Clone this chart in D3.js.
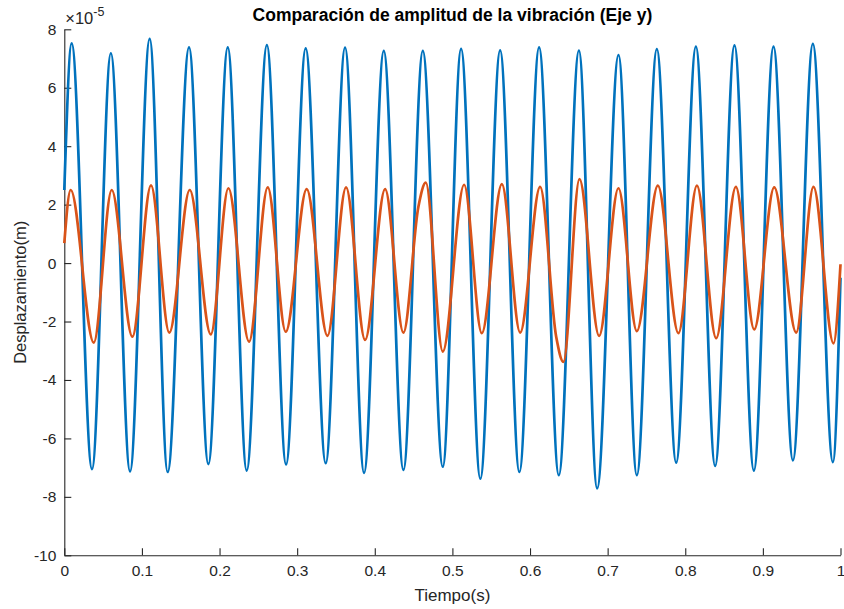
<!DOCTYPE html>
<html>
<head>
<meta charset="utf-8">
<script src="https://cdn.jsdelivr.net/npm/d3@7"></script>
<style>
  html, body { margin: 0; padding: 0; background: #fff; }
  svg { display: block; font-family: "Liberation Sans", Arial, Helvetica, sans-serif; }
</style>
</head>
<body>
<svg id="chart" width="844" height="609"></svg>
<script>
// Vibration displacement along the y axis, values in units of 1e-5 m.
// Each series is sampled at its turning points (crests, troughs, shoulders).
const tBlue = [0, 0.0095, 0.0357, 0.060, 0.0847, 0.110, 0.1332, 0.1607, 0.1856, 0.2106, 0.235,
  0.261, 0.2857, 0.311, 0.3368, 0.3617, 0.3862, 0.4116, 0.4369, 0.4619, 0.4876,
  0.5112, 0.536, 0.5615, 0.5863, 0.6117, 0.6371, 0.663, 0.6865, 0.714, 0.7376,
  0.7634, 0.7883, 0.8137, 0.8385, 0.8634, 0.8884, 0.9137, 0.9387, 0.9644, 0.9902, 1.0];
const yBlue = [2.5, 7.52, -7.05, 7.18, -7.13, 7.67, -7.15, 7.38, -6.88, 7.38, -7.10,
  7.46, -6.89, 7.35, -6.85, 7.37, -7.18, 7.26, -7.08, 7.26, -6.97,
  7.33, -7.38, 7.28, -7.15, 7.38, -7.26, 7.27, -7.71, 7.12, -7.26,
  7.32, -6.83, 7.41, -6.94, 7.45, -7.10, 7.41, -6.75, 7.50, -6.81, -0.5];

const tOrange = [0, 0.0082, 0.038, 0.0611, 0.0877, 0.1117, 0.1353, 0.1616, 0.1887, 0.2114, 0.238,
  0.2621, 0.2853, 0.3123, 0.339, 0.363, 0.3875, 0.4133, 0.4369, 0.4562, 0.4657, 0.4876,
  0.5151, 0.5379, 0.5637, 0.5873, 0.613, 0.6337, 0.643, 0.6637, 0.689, 0.7139, 0.7376,
  0.7647, 0.7912, 0.815, 0.8398, 0.8652, 0.8888, 0.9146, 0.9429, 0.9652, 0.991, 1.0];
const yOrange = [0.68, 2.50, -2.72, 2.50, -2.52, 2.66, -2.38, 2.50, -2.44, 2.56, -2.69,
  2.59, -2.35, 2.53, -2.49, 2.59, -2.63, 2.53, -2.38, 1.93, 2.75, -3.03,
  2.68, -2.40, 2.70, -2.38, 2.61, -2.52, -3.38, 2.87, -2.49, 2.56, -2.33,
  2.65, -2.40, 2.65, -2.57, 2.61, -2.27, 2.59, -2.38, 2.61, -2.75, -0.04];

const xTicks = [0, 0.1, 0.2, 0.3, 0.4, 0.5, 0.6, 0.7, 0.8, 0.9, 1];
const xTickLabels = ["0", "0.1", "0.2", "0.3", "0.4", "0.5", "0.6", "0.7", "0.8", "0.9", "1"];
const yTicks = [-10, -8, -6, -4, -2, 0, 2, 4, 6, 8];
const yTickLabels = ["-10", "-8", "-6", "-4", "-2", "0", "2", "4", "6", "8"];

const title = "Comparación de amplitud de la vibración (Eje y)";
const xLabel = "Tiempo(s)";
const yLabel = "Desplazamiento(m)";

const svg = d3.select("#chart");
const margin = { left: 64.3, right: 3.5, top: 29.3, bottom: 53.7 };
const W = 844, H = 609;
const ink = "#262626";

const x = d3.scaleLinear().domain([0, 1]).range([margin.left, W - margin.right]);
const y = d3.scaleLinear().domain([-10, 8]).range([H - margin.bottom, margin.top]);

svg.append("rect").attr("width", W).attr("height", H).attr("fill", "#fff");

// axes: ticks point inward, no box
const xAxis = d3.axisBottom(x)
  .tickValues(xTicks)
  .tickFormat((d, i) => xTickLabels[i])
  .tickSizeInner(-7).tickSizeOuter(0).tickPadding(10);
const yAxis = d3.axisLeft(y)
  .tickValues(yTicks)
  .tickFormat((d, i) => yTickLabels[i])
  .tickSizeInner(-7).tickSizeOuter(0).tickPadding(8);

const gx = svg.append("g").attr("transform", `translate(0,${y(-10)})`).call(xAxis);
const gy = svg.append("g").attr("transform", `translate(${x(0)},0)`).call(yAxis);
[gx, gy].forEach(g => {
  g.attr("font-family", null).attr("font-size", null);
  g.select(".domain").attr("stroke", ink).attr("stroke-width", 1.1);
  g.selectAll(".tick line").attr("stroke", ink).attr("stroke-width", 1.1);
  g.selectAll(".tick text").attr("fill", ink).style("font-size", "15.5px");
});

// series lines
const line = d3.line()
  .x(d => x(d[0]))
  .y(d => y(d[1]))
  .curve(d3.curveMonotoneX);

const blue = tBlue.map((t, i) => [t, yBlue[i]]);
const orange = tOrange.map((t, i) => [t, yOrange[i]]);

svg.append("path").datum(blue)
  .attr("d", line).attr("fill", "none")
  .attr("stroke", "#0072BD").attr("stroke-width", 2.7)
  .attr("stroke-linejoin", "round");
svg.append("path").datum(orange)
  .attr("d", line).attr("fill", "none")
  .attr("stroke", "#D95319").attr("stroke-width", 2.7)
  .attr("stroke-linejoin", "round");

// exponent multiplier
const ex = svg.append("text").attr("x", x(0) + 1).attr("y", 24)
  .attr("fill", ink).style("font-size", "16.5px");
ex.append("tspan").text("×10");
ex.append("tspan").attr("dy", -8).style("font-size", "12.5px").text("-5");

// title and labels
svg.append("text")
  .attr("x", (x(0) + x(1)) / 2).attr("y", 21)
  .attr("text-anchor", "middle").attr("fill", "#000")
  .style("font-size", "17.5px").style("font-weight", "bold")
  .text(title);

svg.append("text")
  .attr("x", (x(0) + x(1)) / 2).attr("y", 601)
  .attr("text-anchor", "middle").attr("fill", ink)
  .style("font-size", "17px")
  .text(xLabel);

svg.append("text")
  .attr("transform", `translate(26,${(y(-10) + y(8)) / 2}) rotate(-90)`)
  .attr("text-anchor", "middle").attr("fill", ink)
  .style("font-size", "16.5px")
  .text(yLabel);
</script>
</body>
</html>
